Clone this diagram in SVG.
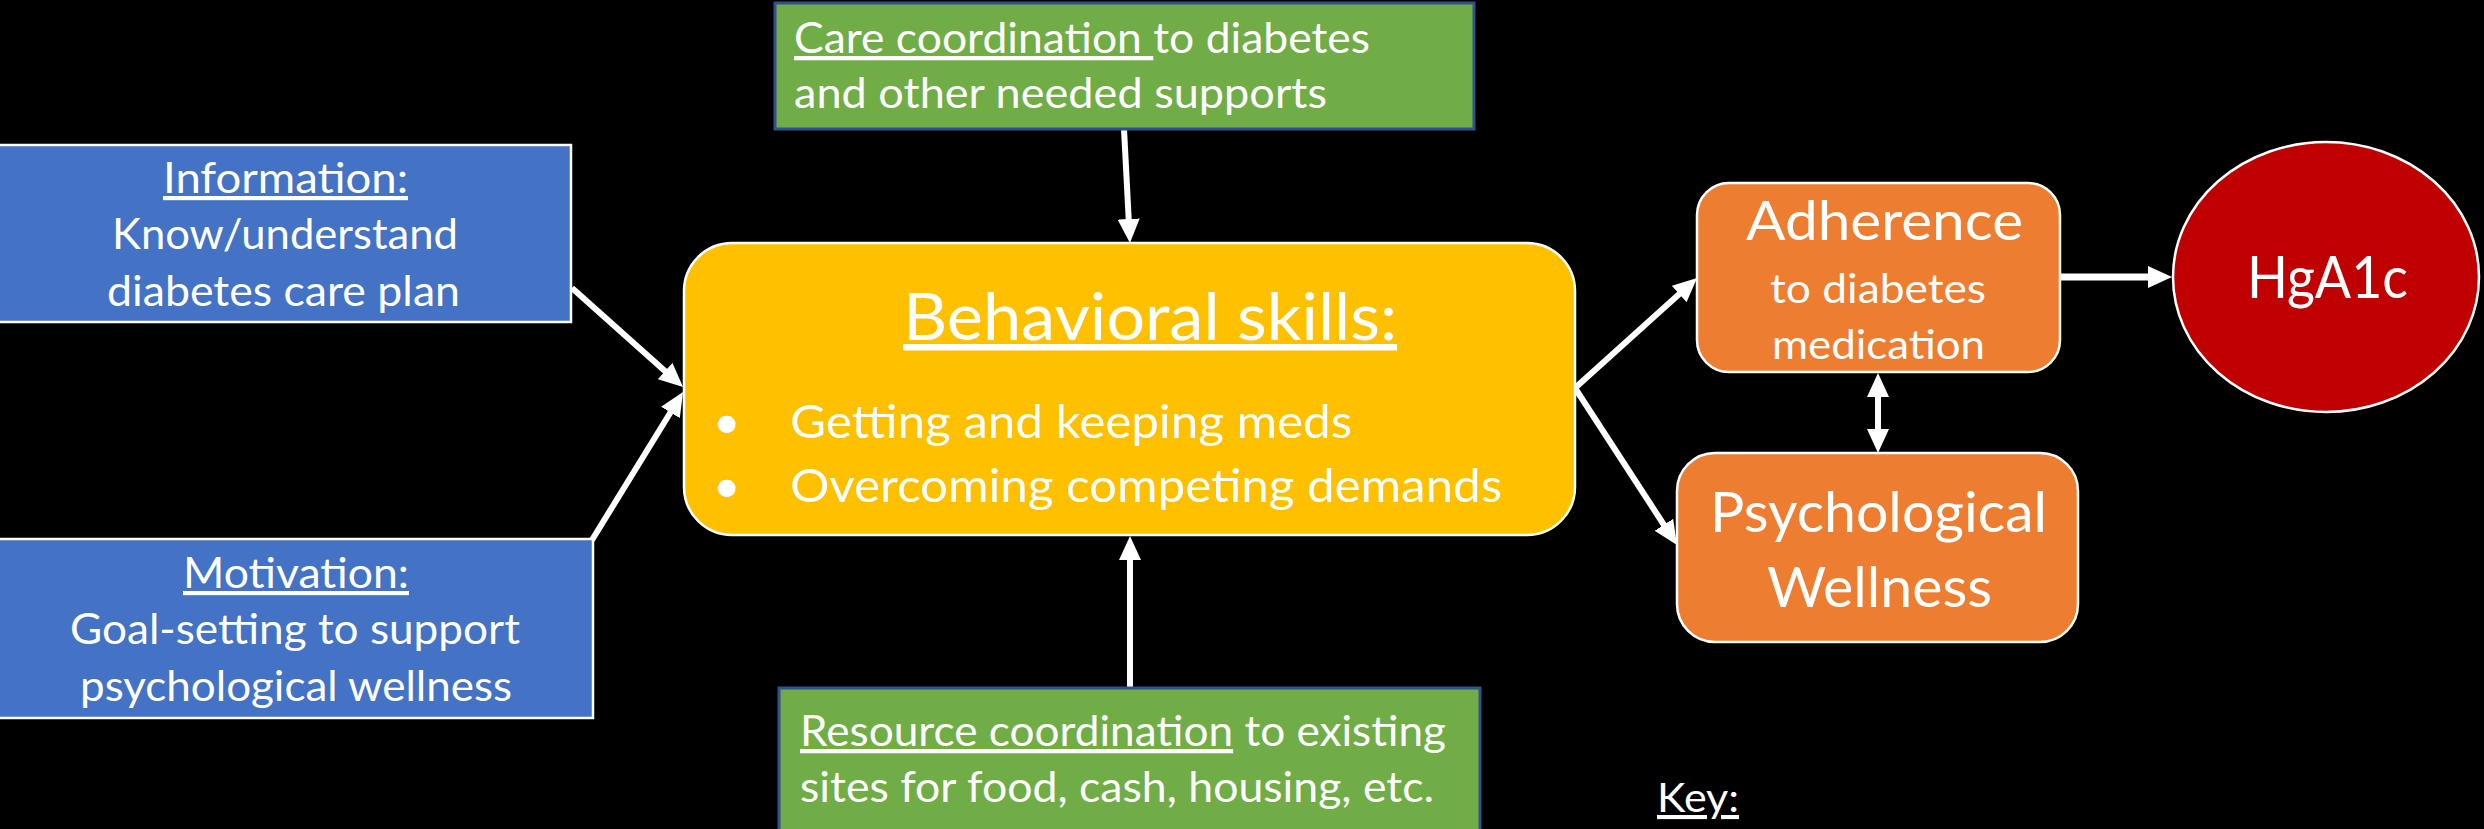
<svg xmlns="http://www.w3.org/2000/svg" width="2484" height="829" viewBox="0 0 2484 829">
  <defs>
    <style>
      text { font-family: Lato, "Liberation Sans", sans-serif; fill: #ffffff; }
      .u { text-decoration: underline; }
      .blue { fill: #4472C4; stroke: #ffffff; stroke-width: 2.5; }
      .green { fill: #70AD47; stroke: #2F528F; stroke-width: 3; }
      .yellow { fill: #FFC000; stroke: #ffffff; stroke-width: 2.5; }
      .orange { fill: #ED7D31; stroke: #ffffff; stroke-width: 2.5; }
      .red { fill: #C00000; stroke: #ffffff; stroke-width: 2.5; }
      .conn { stroke: #ffffff; stroke-width: 6; fill: none; marker-end: url(#head); }
    </style>
    <marker id="head" markerUnits="userSpaceOnUse" markerWidth="24" markerHeight="22" refX="2" refY="11" orient="auto-start-reverse" viewBox="0 0 24 22">
      <path d="M0,0 L24,11 L0,22 Z" fill="#ffffff"/>
    </marker>
  </defs>

  <rect width="2484" height="829" fill="#000000"/>

  <!-- connectors -->
  <g id="connectors">
    <line class="conn" x1="572" y1="288" x2="666.6" y2="372.4"/>
    <line class="conn" x1="592" y1="540" x2="671.5" y2="410.7"/>
    <line class="conn" x1="1124" y1="129" x2="1128.8" y2="221"/>
    <line class="conn" x1="1130" y1="688" x2="1130" y2="558"/>
    <line class="conn" x1="1575" y1="388" x2="1680.7" y2="292.7"/>
    <line class="conn" x1="1575" y1="388" x2="1665" y2="526.5"/>
    <line class="conn" x1="2060" y1="277" x2="2150" y2="277" style="stroke-width:7"/>
    <line class="conn" x1="1878" y1="395" x2="1878" y2="431" style="marker-start:url(#head)"/>
  </g>

  <!-- information -->
  <g id="information">
    <rect class="blue" x="-2" y="145" width="573" height="177"/>
    <text x="163" y="193" font-size="42" textLength="245" lengthAdjust="spacingAndGlyphs" class="u">Information:</text>
    <text x="112" y="249" font-size="42" textLength="346" lengthAdjust="spacingAndGlyphs">Know/understand</text>
    <text x="107" y="306" font-size="42" textLength="353" lengthAdjust="spacingAndGlyphs">diabetes care plan</text>
  </g>

  <!-- motivation -->
  <g id="motivation">
    <rect class="blue" x="-2" y="539" width="595" height="179"/>
    <text x="183" y="588" font-size="42" textLength="226" lengthAdjust="spacingAndGlyphs" class="u">Motivation:</text>
    <text x="70" y="644" font-size="42" textLength="450" lengthAdjust="spacingAndGlyphs">Goal-setting to support</text>
    <text x="80" y="701" font-size="42" textLength="432" lengthAdjust="spacingAndGlyphs">psychological wellness</text>
  </g>

  <!-- care coordination -->
  <g id="care-coordination">
    <rect class="green" x="775" y="3" width="699" height="126"/>
    <text x="794" y="53" font-size="43" textLength="576" lengthAdjust="spacingAndGlyphs"><tspan class="u">Care coordination </tspan>to diabetes</text>
    <text x="794" y="108" font-size="43" textLength="533" lengthAdjust="spacingAndGlyphs">and other needed supports</text>
  </g>

  <!-- resource coordination -->
  <g id="resource-coordination">
    <rect class="green" x="779" y="688" width="701" height="150"/>
    <text x="800" y="746" font-size="43" textLength="646" lengthAdjust="spacingAndGlyphs"><tspan class="u">Resource coordination</tspan> to existing</text>
    <text x="800" y="802" font-size="43" textLength="634" lengthAdjust="spacingAndGlyphs">sites for food, cash, housing, etc.</text>
  </g>

  <!-- behavioral skills -->
  <g id="behavioral-skills">
    <rect class="yellow" x="684" y="243" width="891" height="292" rx="48" ry="48"/>
    <text x="903" y="340" font-size="65" textLength="494" lengthAdjust="spacingAndGlyphs" class="u">Behavioral skills:</text>
    <text x="727" y="438" font-size="47" text-anchor="middle">•</text>
    <text x="790" y="438" font-size="47" textLength="562" lengthAdjust="spacingAndGlyphs">Getting and keeping meds</text>
    <text x="727" y="502" font-size="47" text-anchor="middle">•</text>
    <text x="790" y="502" font-size="47" textLength="712" lengthAdjust="spacingAndGlyphs">Overcoming competing demands</text>
  </g>

  <!-- adherence -->
  <g id="adherence">
    <rect class="orange" x="1697" y="183" width="363" height="189" rx="32" ry="32"/>
    <text x="1746" y="240" font-size="55" textLength="277" lengthAdjust="spacingAndGlyphs">Adherence</text>
    <text x="1770" y="303" font-size="41" textLength="216" lengthAdjust="spacingAndGlyphs">to diabetes</text>
    <text x="1772" y="359" font-size="41" textLength="213" lengthAdjust="spacingAndGlyphs">medication</text>
  </g>

  <!-- psychological wellness -->
  <g id="psychological-wellness">
    <rect class="orange" x="1677" y="453" width="401" height="189" rx="38" ry="38"/>
    <text x="1710" y="532" font-size="57" textLength="337" lengthAdjust="spacingAndGlyphs">Psychological</text>
    <text x="1767" y="607" font-size="57" textLength="225" lengthAdjust="spacingAndGlyphs">Wellness</text>
  </g>

  <!-- outcome -->
  <g id="hga1c">
    <ellipse class="red" cx="2326" cy="277" rx="153" ry="135"/>
    <text x="2247" y="298" font-size="58" textLength="161" lengthAdjust="spacingAndGlyphs">HgA1c</text>
  </g>

  <!-- key -->
  <g id="key">
    <text x="1657" y="812" font-size="41" textLength="82" lengthAdjust="spacingAndGlyphs" class="u">Key:</text>
  </g>
</svg>
